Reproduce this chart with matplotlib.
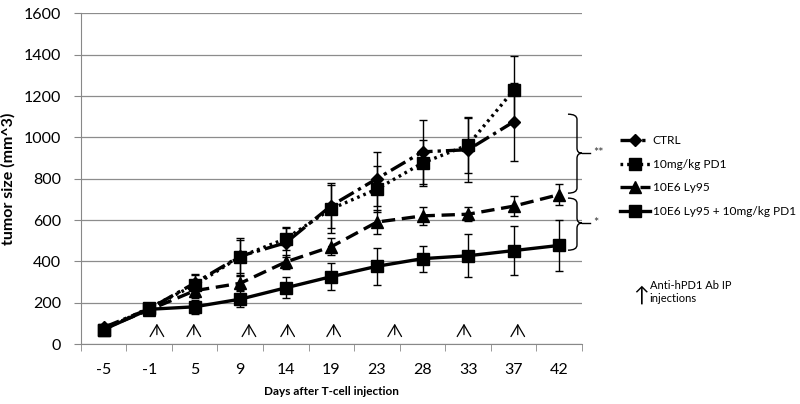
import matplotlib
matplotlib.use("Agg")
import matplotlib.pyplot as plt
from matplotlib.path import Path
from matplotlib.patches import PathPatch
import matplotlib.transforms as mtransforms

plt.rcParams['font.family'] = ['Lato', 'DejaVu Sans']

days = ["-5", "-1", "5", "9", "14", "19", "23", "28", "33", "37", "42"]

ctrl = [80, 170, 295, 425, 490, 670, 800, 930, 940, 1075]
ctrl_err = [10, 20, 40, 80, 70, 110, 130, 155, 155, 190]
pd1 = [70, 175, 285, 423, 510, 654, 750, 876, 963, 1228]
pd1_err = [10, 20, 55, 90, 55, 115, 110, 110, 135, 165]
ly95 = [75, 165, 258, 294, 397, 471, 590, 620, 628, 667, 723]
ly95_err = [10, 15, 35, 35, 35, 40, 60, 45, 35, 50, 50]
combo = [70, 168, 180, 217, 272, 326, 376, 413, 427, 452, 477]
combo_err = [10, 20, 35, 38, 50, 64, 90, 63, 105, 120, 125]

# injection arrows (category-axis positions)
arrow_pos = [1.17, 1.98, 3.19, 4.04, 5.05, 6.39, 7.91, 9.09]

fig = plt.figure(figsize=(8, 4.04), dpi=100)
ax = fig.add_axes([0.101, 0.1485, 0.6265, 0.8185])

x = list(range(len(days)))
ek = dict(ecolor='black', elinewidth=1, capsize=3, capthick=1, color='black')

l1 = ax.errorbar(x[:len(ctrl)], ctrl, yerr=ctrl_err, marker='D', markersize=6.5,
                 lw=2.4, linestyle=(0, (5, 1.5, 1, 1.5)), label='CTRL', **ek)
l2 = ax.errorbar(x[:len(pd1)], pd1, yerr=pd1_err, marker='s', markersize=8,
                 lw=2.4, linestyle=(0, (0.8, 1.2)), label='10mg/kg PD1', **ek)
l3 = ax.errorbar(x, ly95, yerr=ly95_err, marker='^', markersize=8,
                 lw=2.4, linestyle=(0, (4, 2)), label='10E6 Ly95', **ek)
l4 = ax.errorbar(x, combo, yerr=combo_err, marker='s', markersize=8,
                 lw=2.4, linestyle='-', label='10E6 Ly95 + 10mg/kg PD1', **ek)

ax.set_xlim(-0.5, len(days) - 0.5)
ax.set_ylim(0, 1600)
ax.set_yticks(range(0, 1601, 200))
ax.set_xticks(x)
ax.set_xticklabels(days)
ax.set_xticks([i - 0.5 for i in range(len(days) + 1)], minor=True)
ax.tick_params(axis='x', which='major', length=0, pad=14, labelsize=11.5)
ax.tick_params(axis='x', which='minor', length=5, color='#888888')
ax.tick_params(axis='y', length=5, color='#888888', pad=9, labelsize=11.5)
ax.grid(axis='y', color='#8c8c8c', lw=0.9)
ax.set_axisbelow(True)
for s in ['top', 'right']:
    ax.spines[s].set_visible(False)
for s in ['left', 'bottom']:
    ax.spines[s].set_color('#888888')

ax.set_ylabel('tumor size (mm^3)', fontweight='bold', fontsize=11.5, labelpad=6)
ax.set_xlabel('Days after T-cell injection', fontweight='bold', fontsize=8.5, labelpad=6)

for p in arrow_pos:
    ax.annotate('', xy=(p, 112), xytext=(p, 32),
                arrowprops=dict(arrowstyle='->,head_length=0.6,head_width=0.35',
                                lw=0.9, color='black', mutation_scale=14))

# significance braces
trans = mtransforms.blended_transform_factory(ax.transAxes, ax.transData)


def brace(ytop, ybot, ymid, label):
    x0, x1, x2, x3 = 0.972, 0.99, 1.0, 1.015
    r = 25
    verts = [(x0, ytop), (x1, ytop), (x1, ytop - r),
             (x1, ymid + r), (x1, ymid), (x2, ymid),
             (x1, ymid), (x1, ymid - r),
             (x1, ybot + r), (x1, ybot), (x0, ybot)]
    codes = [Path.MOVETO, Path.CURVE3, Path.CURVE3,
             Path.LINETO, Path.CURVE3, Path.CURVE3,
             Path.CURVE3, Path.CURVE3,
             Path.LINETO, Path.CURVE3, Path.CURVE3]
    ax.add_patch(PathPatch(Path(verts, codes), fill=False, lw=1, color='black',
                           transform=trans, clip_on=False))
    ax.plot([x2, x3], [ymid, ymid], color='black', lw=1, transform=trans, clip_on=False)
    ax.text(x3 + 0.007, ymid, label, transform=trans, fontsize=9, va='center',
            ha='left', color='#333333')


brace(1112, 730, 923, '**')
brace(706, 454, 585, '*')

fig.legend(handles=[l1[0], l2[0], l3[0], l4[0]],
           labels=['CTRL', '10mg/kg PD1', '10E6 Ly95', '10E6 Ly95 + 10mg/kg PD1'],
           loc='upper left', bbox_to_anchor=(0.775, 0.665), borderpad=0,
           borderaxespad=0, frameon=False, fontsize=8.6,
           handlelength=2.5, handletextpad=0.25, labelspacing=1.05)

fig.text(0.801, 0.268, '↑', fontsize=15, ha='center', va='center')
fig.text(0.812, 0.308, 'Anti-hPD1 Ab IP\ninjections', fontsize=8, va='top',
         ha='left', linespacing=1.3)

fig.savefig('out.png', dpi=100)
